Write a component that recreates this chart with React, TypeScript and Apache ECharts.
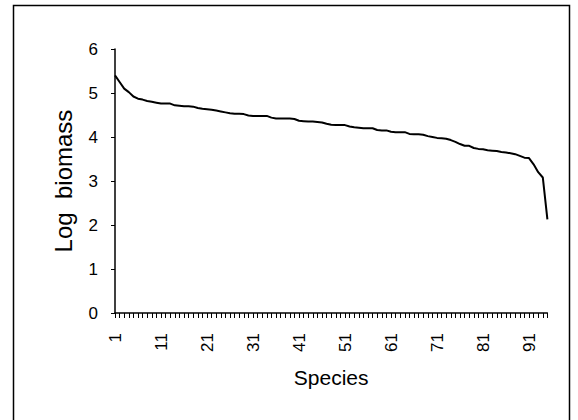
import React, { useEffect, useRef } from "react";
import * as echarts from "echarts";

const species: string[] = Array.from({ length: 95 }, (_, i) => String(i + 1));
const logBiomass: number[] = [
  5.40, 5.25, 5.10, 5.02, 4.92, 4.87, 4.85, 4.82, 4.80, 4.78,
  4.76, 4.76, 4.76, 4.72, 4.71, 4.70, 4.70, 4.69, 4.66, 4.64,
  4.63, 4.62, 4.60, 4.58, 4.56, 4.54, 4.53, 4.53, 4.52, 4.49,
  4.48, 4.48, 4.48, 4.48, 4.44, 4.42, 4.42, 4.42, 4.42, 4.41,
  4.37, 4.36, 4.35, 4.35, 4.34, 4.33, 4.30, 4.28, 4.27, 4.27,
  4.27, 4.24, 4.22, 4.21, 4.20, 4.20, 4.20, 4.16, 4.15, 4.15,
  4.12, 4.11, 4.11, 4.11, 4.07, 4.06, 4.06, 4.05, 4.02, 4.00,
  3.98, 3.97, 3.96, 3.93, 3.89, 3.84, 3.80, 3.80, 3.75, 3.73,
  3.72, 3.70, 3.69, 3.68, 3.66, 3.65, 3.63, 3.61, 3.57, 3.53,
  3.52, 3.38, 3.20, 3.08, 2.13,
];
const yTicks: number[] = [0, 1, 2, 3, 4, 5, 6];

const FONT = "'Liberation Sans', Arial, Helvetica, sans-serif";

export default function App() {
  const ref = useRef<HTMLDivElement>(null);
  useEffect(() => {
    if (!ref.current) return;
    const chart = echarts.init(ref.current, undefined, { renderer: "svg" });
    chart.setOption({
      animation: false,
      backgroundColor: "#ffffff",
      textStyle: { fontFamily: FONT, color: "#000" },
      graphic: [
        {
          type: "rect",
          shape: { x: 13.5, y: 5.5, width: 556, height: 430 },
          style: { fill: "none", stroke: "#000", lineWidth: 1.5 },
          silent: true,
        },
      ],
      grid: { left: 115, right: 30.6, top: 49, bottom: 107, containLabel: false },
      xAxis: {
        type: "category",
        data: species,
        boundaryGap: false,
        name: "Species",
        nameLocation: "middle",
        nameGap: 54,
        nameTextStyle: { fontSize: 21, color: "#000", fontFamily: FONT },
        axisLine: { lineStyle: { color: "#000", width: 1.5 } },
        axisTick: { show: true, interval: 0, length: 5, lineStyle: { color: "#000", width: 1 } },
        axisLabel: {
          interval: 9,
          rotate: 90,
          fontSize: 17,
          color: "#000",
          margin: 20,
          fontFamily: FONT,
        },
        splitLine: { show: false },
      },
      yAxis: {
        type: "value",
        min: yTicks[0],
        max: yTicks[yTicks.length - 1],
        interval: 1,
        name: "Log  biomass",
        nameLocation: "middle",
        nameGap: 40,
        nameTextStyle: { fontSize: 24, color: "#000", fontFamily: FONT },
        axisLine: { show: true, lineStyle: { color: "#000", width: 1.5 } },
        axisTick: { show: true, length: 4, lineStyle: { color: "#000", width: 1 } },
        axisLabel: { fontSize: 17, color: "#000", margin: 17, fontFamily: FONT },
        splitLine: { show: false },
      },
      series: [
        {
          type: "line",
          data: logBiomass,
          showSymbol: false,
          symbol: "none",
          lineStyle: { color: "#000", width: 2 },
        },
      ],
    });
    return () => chart.dispose();
  }, []);
  return (
    <div
      ref={ref}
      style={{ position: "absolute", left: 0, top: 0, width: 578, height: 420 }}
    />
  );
}
